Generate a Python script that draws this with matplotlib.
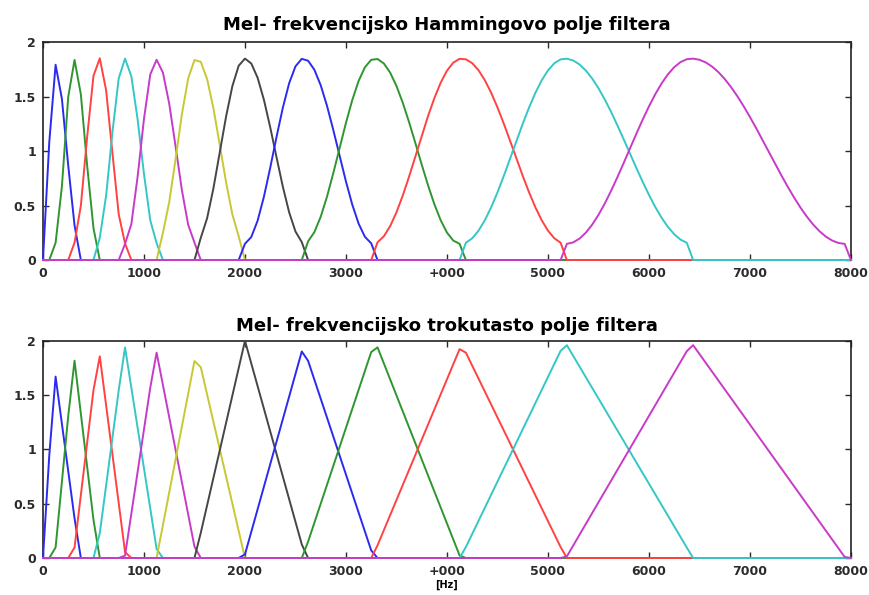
#!/usr/bin/env python3
# -*- coding: utf-8 -*-

import numpy as np
import matplotlib
matplotlib.use("Agg")
import matplotlib.pyplot as plt

# ==================== ------ DATA ------- ====================
# lower edge, centre and upper edge of every mel filter [Hz]
lower_edges = [0, 115, 300, 530, 809, 1125, 1505, 1990, 2571, 3260, 4135, 5178]
centers = [115, 307, 551, 809, 1119, 1522, 2000, 2577, 3287, 4146, 5168, 6422]
upper_edges = [365, 545, 820, 1139, 1522, 2000, 2600, 3275, 4135, 5178, 6436, 7945]
# peak gain of every filter
hamming_peaks = [1.80, 1.84, 1.86, 1.85, 1.84, 1.85, 1.85, 1.85, 1.85, 1.85, 1.85, 1.85]
triangle_peaks = [1.74, 1.86, 1.94, 1.96, 1.92, 1.92, 2.00, 1.95, 2.00, 1.97, 1.99, 1.98]
# frequency bins of the spectrum (256-point FFT, fs = 16 kHz)
f_step = 62.5
f_max = 8000

titles = ["Mel- frekvencijsko Hammingovo polje filtera",
          "Mel- frekvencijsko trokutasto polje filtera"]
x_ticks = [0, 1000, 2000, 3000, 4000, 5000, 6000, 7000, 8000]
x_tick_labels = ["0", "1000", "2000", "3000", "+000", "5000", "6000", "7000", "8000"]
y_ticks = [0, 0.5, 1, 1.5, 2]
y_tick_labels = ["0", "0.5", "1", "1.5", "2"]

colors = ["#2b2bf0", "#2f962f", "#ff4242", "#35c6c6", "#c83ac8", "#c8c835", "#464646"]


def filter_shape(f, lo, c, hi, peak, kind):
    out = np.zeros_like(f)
    rise = (f > lo) & (f <= c)
    fall = (f > c) & (f < hi)
    tr = (f[rise] - lo) / (c - lo)
    tf = (f[fall] - c) / (hi - c)
    if kind == "hamming":
        out[rise] = peak * (0.54 - 0.46 * np.cos(np.pi * tr))
        out[fall] = peak * (0.54 + 0.46 * np.cos(np.pi * tf))
    else:
        out[rise] = peak * tr
        out[fall] = peak * (1 - tf)
    return out


freqs = np.arange(0, f_max + f_step / 2, f_step)

fig = plt.figure(figsize=(8.7, 5.95), dpi=100)
ax_top = fig.add_axes([0.0494, 0.563, 0.9287, 0.366])
ax_bot = fig.add_axes([0.0494, 0.0622, 0.9287, 0.365])

for ax, peaks, kind, title, tpad in [(ax_top, hamming_peaks, "hamming", titles[0], 9),
                                     (ax_bot, triangle_peaks, "triangle", titles[1], 7)]:
    for i, peak in enumerate(peaks):
        ax.plot(freqs, filter_shape(freqs, lower_edges[i], centers[i], upper_edges[i], peak, kind),
                color=colors[i % len(colors)], lw=1.4, zorder=3, clip_on=False)
    ax.set_xlim(0, 8000)
    ax.set_ylim(0, 2)
    ax.set_xticks(x_ticks)
    ax.set_xticklabels(x_tick_labels)
    ax.set_yticks(y_ticks)
    ax.set_yticklabels(y_tick_labels)
    ax.tick_params(direction="in", length=4, width=1, top=True, right=True,
                   labelsize=9, colors="#2a2a2a", pad=5)
    for lab in ax.get_xticklabels() + ax.get_yticklabels():
        lab.set_fontweight("bold")
    for s in ax.spines.values():
        s.set_linewidth(1.2)
        s.set_color("#222222")
    ax.set_title(title, fontsize=13, fontweight="heavy", pad=tpad)

ax_bot.set_xlabel("[Hz]", fontsize=7, fontweight="bold", labelpad=1)

plt.savefig("out.png", dpi=100)
plt.close()
